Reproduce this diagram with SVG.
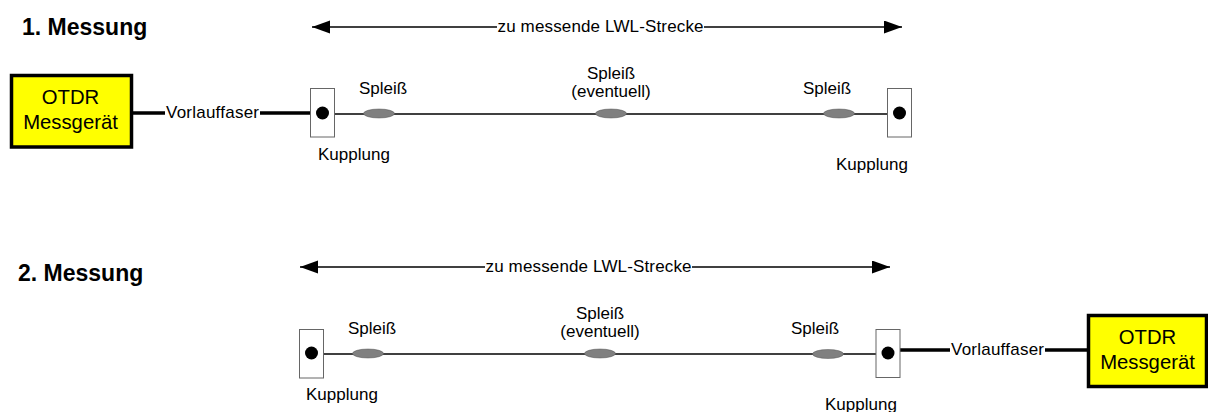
<svg xmlns="http://www.w3.org/2000/svg" width="1208" height="412" viewBox="0 0 1208 412">
<style>
text{font-family:"Liberation Sans",Arial,sans-serif;fill:#000;font-size:17px}
.t{font-size:23px;font-weight:bold}
.o{font-size:20.3px;text-anchor:middle}
.m{text-anchor:middle}
.box{fill:#ff0;stroke:#000;stroke-width:3.5}
.cp{fill:#fff;stroke:#666;stroke-width:1}
.sp{fill:#808080;stroke:#555;stroke-width:.5}
.thin{stroke:#000;stroke-width:1.4;fill:none}
.thick{stroke:#000;stroke-width:3.5;fill:none}
.dim{stroke:#000;stroke-width:1.5;fill:none;marker-end:url(#a)}
</style>
<defs><marker id="a" markerUnits="userSpaceOnUse" markerWidth="20" markerHeight="14" refX="18" refY="6.5" orient="auto"><path d="M0 0L18 6.5L0 13Z" fill="#000"/></marker></defs>
<text class="t" x="22" y="34.5">1. Messung</text>
<text class="t" x="18" y="280.5">2. Messung</text>
<g id="connectors">
<path class="thick" d="M132 113H165M260 113H310"/>
<path class="thin" d="M334 114H887"/>
<path class="dim" d="M497 27H312"/>
<path class="dim" d="M704 27H902"/>
<path class="thin" d="M323 354H876"/>
<path class="thick" d="M900 350H950M1045 350H1087"/>
<path class="dim" d="M485 267H300"/>
<path class="dim" d="M692 267H890"/>
</g>
<g id="otdr1"><rect class="box" x="11.5" y="75.5" width="120" height="71.5"/><text class="o" x="70.5" y="104">OTDR</text><text class="o" x="70.5" y="129">Messgerät</text></g>
<g id="otdr2"><rect class="box" x="1088.5" y="315.5" width="118" height="71"/><text class="o" x="1147.5" y="344">OTDR</text><text class="o" x="1147.5" y="369">Messgerät</text></g>
<text x="166" y="118" textLength="93">Vorlauffaser</text>
<text x="951" y="355" textLength="93">Vorlauffaser</text>
<text class="m" x="600.5" y="32" textLength="206">zu messende LWL-Strecke</text>
<text class="m" x="588.5" y="272" textLength="206">zu messende LWL-Strecke</text>
<g id="k1"><rect class="cp" x="310.5" y="88.5" width="24" height="48.5"/><circle cx="322.5" cy="113" r="6.5"/><text x="318" y="160">Kupplung</text></g>
<g id="k2"><rect class="cp" x="887.5" y="88.5" width="24" height="48.5"/><circle cx="899.5" cy="113" r="6.5"/><text x="836" y="170">Kupplung</text></g>
<g id="k3"><rect class="cp" x="299.5" y="329.5" width="24" height="48.5"/><circle cx="311.5" cy="353" r="6.5"/><text x="306" y="400">Kupplung</text></g>
<g id="k4"><rect class="cp" x="876" y="329.5" width="24" height="48"/><circle cx="888" cy="353" r="6.5"/><text x="825" y="410">Kupplung</text></g>
<g id="s1"><ellipse class="sp" cx="379" cy="113.5" rx="15.5" ry="4.5"/><text x="359" y="94">Spleiß</text></g>
<g id="s2"><ellipse class="sp" cx="611" cy="113.5" rx="15.5" ry="4.5"/><text class="m" x="611" y="79">Spleiß</text><text class="m" x="611" y="97">(eventuell)</text></g>
<g id="s3"><ellipse class="sp" cx="839" cy="113.5" rx="15.5" ry="4.5"/><text x="803" y="94">Spleiß</text></g>
<g id="s4"><ellipse class="sp" cx="368" cy="353.5" rx="15.5" ry="4.5"/><text x="348" y="334">Spleiß</text></g>
<g id="s5"><ellipse class="sp" cx="600" cy="353.5" rx="15.5" ry="4.5"/><text class="m" x="600" y="319">Spleiß</text><text class="m" x="600" y="337">(eventuell)</text></g>
<g id="s6"><ellipse class="sp" cx="828" cy="354" rx="15.5" ry="4.5"/><text x="791" y="334">Spleiß</text></g>
</svg>
